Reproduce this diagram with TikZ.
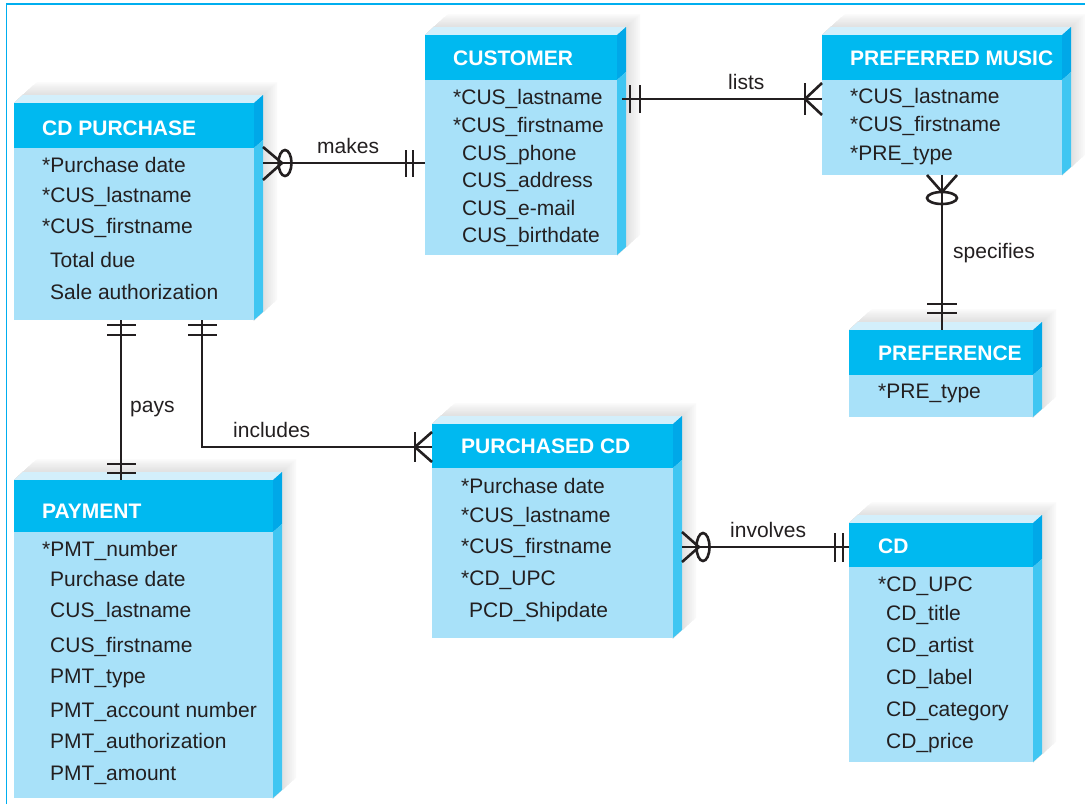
\documentclass[tikz,border=0pt]{standalone}
\usepackage{fontspec}
\setmainfont{Liberation Sans}
\definecolor{hdr}{HTML}{00B9F0}
\definecolor{bdy}{HTML}{A8E1F9}
\definecolor{topc}{HTML}{D3EFFB}
\definecolor{sideh}{HTML}{00A8E8}
\definecolor{sideb}{HTML}{40C6F2}
\definecolor{ink}{HTML}{231F20}
\definecolor{framec}{HTML}{00AEEF}
\tikzset{
  rel/.style={draw=ink, line width=2.6pt},
  attr/.style={inner sep=0pt, anchor=base west, text=ink, font=\fontsize{21}{25}\selectfont},
  hdrtxt/.style={inner sep=0pt, anchor=base west, text=white, font=\fontsize{21}{25}\selectfont\bfseries},
  lbl/.style={attr}
}
% x0, y0 (top), yh (header bottom), x1, y1 (bottom)
\newcommand{\erbox}[5]{%
  \foreach \dd in {23,22,...,10}{%
    \pgfmathtruncatemacro{\gg}{4+(23-\dd)*1.5}%
    \fill[gray!\gg] (#1,#2) -- (#1+\dd,#2-0.9*\dd) -- (#4+\dd,#2-0.9*\dd) -- (#4+\dd,#5-0.9*\dd) -- (#4,#5) -- cycle;
  }
  \fill[topc]  (#1,#2) -- (#1+9,#2-8) -- (#4+9,#2-8) -- (#4,#2) -- cycle;
  \fill[sideh] (#4,#2) -- (#4+9,#2-8) -- (#4+9,#3-8) -- (#4,#3) -- cycle;
  \fill[sideb] (#4,#3) -- (#4+9,#3-8) -- (#4+9,#5-8) -- (#4,#5) -- cycle;
  \fill[hdr] (#1,#2) rectangle (#4,#3);
  \fill[bdy] (#1,#3) rectangle (#4,#5);
}
\begin{document}
\begin{tikzpicture}[x=1pt, y=-1pt]
\useasboundingbox (0,0) rectangle (1085,804);
\fill[white] (0,0) rectangle (1085,804);
% frame
\draw[framec, line width=1.6pt] (6.5,804) -- (6.5,4.2) -- (1085,4.2);

% entity boxes
\erbox{14}{103}{148}{254}{320}   % CD PURCHASE
\erbox{425}{35}{80}{617}{255}    % CUSTOMER
\erbox{822}{35}{80}{1062}{175}   % PREFERRED MUSIC
\erbox{849}{330}{375}{1033}{417} % PREFERENCE
\erbox{432}{424}{468}{673}{638}  % PURCHASED CD
\erbox{14}{480}{532}{273}{798}   % PAYMENT
\erbox{849}{523}{567}{1033}{762} % CD

% CD PURCHASE
\node[hdrtxt] (cdp-h) at (42,135) {CD PURCHASE};
\node[attr] (cdp-1) at (42,172) {*Purchase date};
\node[attr] (cdp-2) at (42,202) {*CUS\_lastname};
\node[attr] (cdp-3) at (42,233) {*CUS\_firstname};
\node[attr] (cdp-4) at (50,267) {Total due};
\node[attr] (cdp-5) at (50,299) {Sale authorization};

% CUSTOMER
\node[hdrtxt] (cus-h) at (453,65) {CUSTOMER};
\node[attr] (cus-1) at (453,104) {*CUS\_lastname};
\node[attr] (cus-2) at (453,132) {*CUS\_firstname};
\node[attr] (cus-3) at (462,160) {CUS\_phone};
\node[attr] (cus-4) at (462,187) {CUS\_address};
\node[attr] (cus-5) at (462,215) {CUS\_e-mail};
\node[attr] (cus-6) at (462,242) {CUS\_birthdate};

% PREFERRED MUSIC
\node[hdrtxt] (pm-h) at (850,65) {PREFERRED MUSIC};
\node[attr] (pm-1) at (850,103) {*CUS\_lastname};
\node[attr] (pm-2) at (850,131) {*CUS\_firstname};
\node[attr] (pm-3) at (850,160) {*PRE\_type};

% PREFERENCE
\node[hdrtxt] (pref-h) at (878,360) {PREFERENCE};
\node[attr] (pref-1) at (878,398) {*PRE\_type};

% PURCHASED CD
\node[hdrtxt] (pcd-h) at (461,453) {PURCHASED CD};
\node[attr] (pcd-1) at (461,493) {*Purchase date};
\node[attr] (pcd-2) at (461,522) {*CUS\_lastname};
\node[attr] (pcd-3) at (461,553) {*CUS\_firstname};
\node[attr] (pcd-4) at (461,585) {*CD\_UPC};
\node[attr] (pcd-5) at (469,617) {PCD\_Shipdate};

% PAYMENT
\node[hdrtxt] (pay-h) at (42,518) {PAYMENT};
\node[attr] (pay-1) at (42,556) {*PMT\_number};
\node[attr] (pay-2) at (50,586) {Purchase date};
\node[attr] (pay-3) at (50,617) {CUS\_lastname};
\node[attr] (pay-4) at (50,652) {CUS\_firstname};
\node[attr] (pay-5) at (50,683) {PMT\_type};
\node[attr] (pay-6) at (50,717) {PMT\_account number};
\node[attr] (pay-7) at (50,748) {PMT\_authorization};
\node[attr] (pay-8) at (50,780) {PMT\_amount};

% CD
\node[hdrtxt] (cd-h) at (878,553) {CD};
\node[attr] (cd-1) at (878,591) {*CD\_UPC};
\node[attr] (cd-2) at (886,620) {CD\_title};
\node[attr] (cd-3) at (886,652) {CD\_artist};
\node[attr] (cd-4) at (886,684) {CD\_label};
\node[attr] (cd-5) at (886,716) {CD\_category};
\node[attr] (cd-6) at (886,748) {CD\_price};

% connector end points
\coordinate (mkA) at (263,163);  \coordinate (mkB) at (425,163);
\coordinate (lsA) at (622,99);   \coordinate (lsB) at (822,99);
\coordinate (spA) at (942,175);  \coordinate (spB) at (942,330);
\coordinate (pyA) at (121,320);  \coordinate (pyB) at (121,480);
\coordinate (inA) at (202,320);  \coordinate (inK) at (202,447);  \coordinate (inB) at (432,447);
\coordinate (ivA) at (682,547);  \coordinate (ivB) at (849,547);

% makes
\draw[rel] (mkA) -- (mkB);
\draw[rel] ([shift={(0,-16)}]mkA) -- ([shift={(19,0)}]mkA) -- ([shift={(0,17)}]mkA);
\draw[rel] ([shift={(22,0)}]mkA) ellipse [x radius=6.5pt, y radius=13pt];
\draw[rel] ([shift={(-19,-13)}]mkB) -- ++(0,27);
\draw[rel] ([shift={(-12,-13)}]mkB) -- ++(0,27);
\node[lbl] (mk-l) at (317,153) {makes};

% lists
\draw[rel] (lsA) -- (lsB);
\draw[rel] ([shift={(8,-14)}]lsA) -- ++(0,28);
\draw[rel] ([shift={(18,-14)}]lsA) -- ++(0,28);
\draw[rel] ([shift={(-17,-16)}]lsB) -- ++(0,32);
\draw[rel] ([shift={(0,-16)}]lsB) -- ([shift={(-17,0)}]lsB) -- ([shift={(0,16)}]lsB);
\node[lbl] (ls-l) at (728,89) {lists};

% specifies
\draw[rel] (spA) -- (spB);
\draw[rel] ([shift={(-15,0)}]spA) -- ([shift={(0,17)}]spA) -- ([shift={(15,0)}]spA);
\draw[rel] ([shift={(0,23)}]spA) ellipse [x radius=15pt, y radius=6pt];
\draw[rel] ([shift={(-15,-26)}]spB) -- ++(30,0);
\draw[rel] ([shift={(-15,-17)}]spB) -- ++(30,0);
\node[lbl] (sp-l) at (953,258) {specifies};

% pays
\draw[rel] (pyA) -- (pyB);
\draw[rel] ([shift={(-14,5)}]pyA) -- ++(29,0);
\draw[rel] ([shift={(-14,15)}]pyA) -- ++(29,0);
\draw[rel] ([shift={(-14,-16)}]pyB) -- ++(29,0);
\draw[rel] ([shift={(-14,-7)}]pyB) -- ++(29,0);
\node[lbl] (py-l) at (130,412) {pays};

% includes
\draw[rel] (inA) -- (inK) -- (inB);
\draw[rel] ([shift={(-14,5)}]inA) -- ++(29,0);
\draw[rel] ([shift={(-14,15)}]inA) -- ++(29,0);
\draw[rel] ([shift={(-17,-15)}]inB) -- ++(0,30);
\draw[rel] ([shift={(0,-15)}]inB) -- ([shift={(-17,0)}]inB) -- ([shift={(0,15)}]inB);
\node[lbl] (in-l) at (233,437) {includes};

% involves
\draw[rel] (ivA) -- (ivB);
\draw[rel] ([shift={(0,-15)}]ivA) -- ([shift={(17,0)}]ivA) -- ([shift={(0,15)}]ivA);
\draw[rel] ([shift={(21,0)}]ivA) ellipse [x radius=6.5pt, y radius=14pt];
\draw[rel] ([shift={(-14,-14)}]ivB) -- ++(0,29);
\draw[rel] ([shift={(-6,-14)}]ivB) -- ++(0,29);
\node[lbl] (iv-l) at (730,537) {involves};
\end{tikzpicture}
\end{document}
